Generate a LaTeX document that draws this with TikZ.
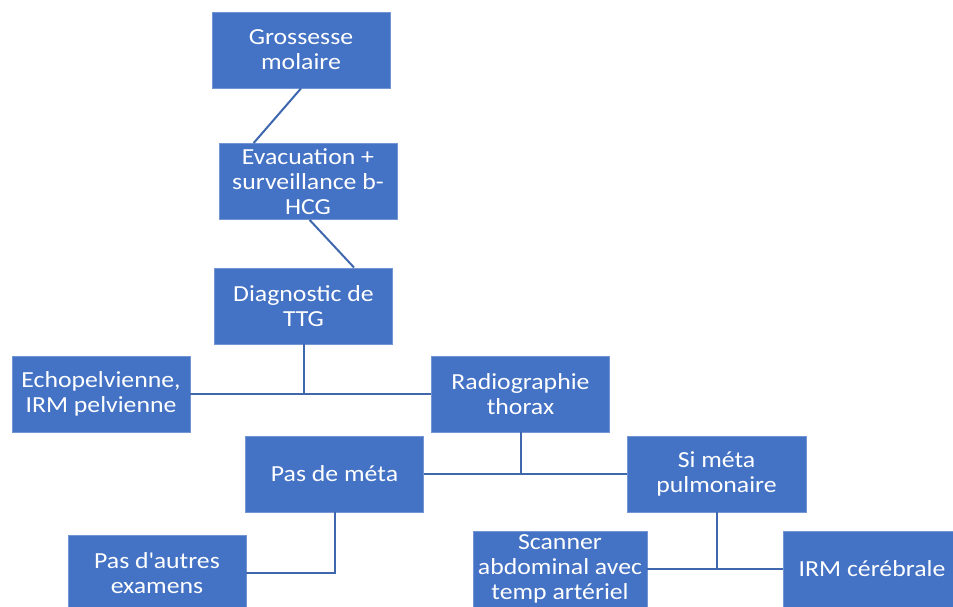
\documentclass[tikz,border=0pt]{standalone}
\usepackage{fontspec}
\setmainfont{Carlito}[FakeStretch=1.12]
\usetikzlibrary{calc}
\definecolor{boxblue}{HTML}{4472C4}
\definecolor{linkblue}{HTML}{3F67AE}

\begin{document}
\begin{tikzpicture}[x=1pt,y=-1pt]
        \tikzstyle{every node}=[font=\fontsize{23}{25}\selectfont]
        \tikzstyle{etape}=[draw=boxblue!75!white, line width=0.8pt, fill=boxblue, text=white, minimum width=178pt, minimum height=76pt, align=center, inner sep=0pt]
        \tikzstyle{lien}=[draw=linkblue, line width=2pt]

        \useasboundingbox (0,0) rectangle (953,607);
        \clip (0,0) rectangle (953,607);

        \node[etape] (GrossesseMolaire) at (301,50) {Grossesse\\molaire};
        \node[etape] (Evacuation) at (308,181.5) {Evacuation +\\surveillance b-\\HCG};
        \node[etape] (DiagnosticTTG) at (303.5,306) {Diagnostic de\\TTG};

        \node[etape] (Echopelvienne) at (101,394) {Echopelvienne,\\IRM pelvienne};
        \node[etape] (Radiographie) at (520.5,394) {Radiographie\\thorax};

        \node[etape] (PasDeMeta) at (334.5,474) {Pas de méta};
        \node[etape, minimum width=179pt] (SiMeta) at (716.5,474) {Si méta\\pulmonaire};

        \node[etape] (PasAutres) at (157,573) {Pas d\textquotesingle autres\\examens};
        \node[etape, minimum width=174pt] (Scanner) at (560,569) {Scanner\\abdominal avec\\temp artériel};
        \node[etape] (IRMCerebrale) at (872,569) {IRM cérébrale};

        \draw[lien] (GrossesseMolaire.south) -- ($(Evacuation.north west)+(35,0)$);
        \draw[lien] ($(Evacuation.south west)+(91,0)$) -- ($(DiagnosticTTG.north west)+(140,0)$);

        \draw[lien] (DiagnosticTTG.south) -- (DiagnosticTTG.south |- Echopelvienne.east);
        \draw[lien] (Echopelvienne.east) -- (Radiographie.west);

        \draw[lien] (Radiographie.south) -- (Radiographie.south |- PasDeMeta.east);
        \draw[lien] (PasDeMeta.east) -- (SiMeta.west);

        \draw[lien] (PasDeMeta.south) |- (PasAutres.east);

        \draw[lien] (SiMeta.south) -- (SiMeta.south |- Scanner.east);
        \draw[lien] (Scanner.east) -- (IRMCerebrale.west);

    \end{tikzpicture}
\end{document}
